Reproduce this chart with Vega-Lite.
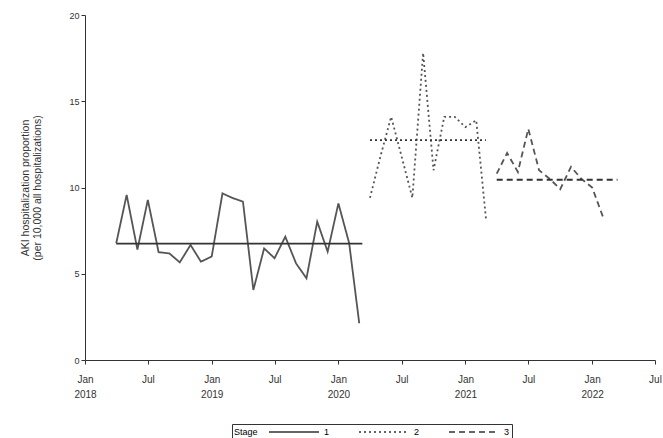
{
  "$schema": "https://vega.github.io/schema/vega-lite/v6.json",
  "width": 570,
  "height": 345,
  "autosize": "none",
  "padding": {"left": 85, "top": 15, "right": 8, "bottom": 78},
  "background": "white",
  "config": {
    "view": {"stroke": null},
    "font": "Liberation Sans",
    "axis": {"domainColor": "#333", "tickColor": "#333", "labelColor": "#333", "titleColor": "#333", "grid": false, "labelFont": "Liberation Sans", "titleFont": "Liberation Sans"}
  },
  "datasets": {
    "series": [
      {"date": "2018-04-01", "value": 6.77, "stage": "1"},
      {"date": "2018-05-01", "value": 9.57, "stage": "1"},
      {"date": "2018-06-01", "value": 6.4, "stage": "1"},
      {"date": "2018-07-01", "value": 9.28, "stage": "1"},
      {"date": "2018-08-01", "value": 6.25, "stage": "1"},
      {"date": "2018-09-01", "value": 6.18, "stage": "1"},
      {"date": "2018-10-01", "value": 5.66, "stage": "1"},
      {"date": "2018-11-01", "value": 6.67, "stage": "1"},
      {"date": "2018-12-01", "value": 5.7, "stage": "1"},
      {"date": "2019-01-01", "value": 6.0, "stage": "1"},
      {"date": "2019-02-01", "value": 9.66, "stage": "1"},
      {"date": "2019-03-01", "value": 9.4, "stage": "1"},
      {"date": "2019-04-01", "value": 9.18, "stage": "1"},
      {"date": "2019-05-01", "value": 4.06, "stage": "1"},
      {"date": "2019-06-01", "value": 6.47, "stage": "1"},
      {"date": "2019-07-01", "value": 5.9, "stage": "1"},
      {"date": "2019-08-01", "value": 7.15, "stage": "1"},
      {"date": "2019-09-01", "value": 5.6, "stage": "1"},
      {"date": "2019-10-01", "value": 4.74, "stage": "1"},
      {"date": "2019-11-01", "value": 8.02, "stage": "1"},
      {"date": "2019-12-01", "value": 6.28, "stage": "1"},
      {"date": "2020-01-01", "value": 9.08, "stage": "1"},
      {"date": "2020-02-01", "value": 6.77, "stage": "1"},
      {"date": "2020-03-01", "value": 2.13, "stage": "1"},
      {"date": "2020-04-01", "value": 9.4, "stage": "2"},
      {"date": "2020-05-01", "value": 11.8, "stage": "2"},
      {"date": "2020-06-01", "value": 14.1, "stage": "2"},
      {"date": "2020-07-01", "value": 11.8, "stage": "2"},
      {"date": "2020-08-01", "value": 9.4, "stage": "2"},
      {"date": "2020-09-01", "value": 17.8, "stage": "2"},
      {"date": "2020-10-01", "value": 11.0, "stage": "2"},
      {"date": "2020-11-01", "value": 14.1, "stage": "2"},
      {"date": "2020-12-01", "value": 14.1, "stage": "2"},
      {"date": "2021-01-01", "value": 13.5, "stage": "2"},
      {"date": "2021-02-01", "value": 13.9, "stage": "2"},
      {"date": "2021-03-01", "value": 8.2, "stage": "2"},
      {"date": "2021-04-01", "value": 10.8, "stage": "3"},
      {"date": "2021-05-01", "value": 12.0, "stage": "3"},
      {"date": "2021-06-01", "value": 10.9, "stage": "3"},
      {"date": "2021-07-01", "value": 13.4, "stage": "3"},
      {"date": "2021-08-01", "value": 11.0, "stage": "3"},
      {"date": "2021-09-01", "value": 10.5, "stage": "3"},
      {"date": "2021-10-01", "value": 9.9, "stage": "3"},
      {"date": "2021-11-01", "value": 11.2, "stage": "3"},
      {"date": "2021-12-01", "value": 10.5, "stage": "3"},
      {"date": "2022-01-01", "value": 10.0, "stage": "3"},
      {"date": "2022-02-01", "value": 8.3, "stage": "3"}
    ],
    "means": [
      {"stage": "1", "start": "2018-04-01", "end": "2020-03-10", "mean": 6.75},
      {"stage": "2", "start": "2020-04-01", "end": "2021-03-01", "mean": 12.75},
      {"stage": "3", "start": "2021-04-01", "end": "2022-03-15", "mean": 10.45}
    ]
  },
  "layer": [
    {
      "data": {"name": "series"},
      "mark": {"type": "line", "color": "#555", "strokeWidth": 1.8},
      "encoding": {
        "x": {
          "field": "date", "type": "temporal",
          "scale": {"domain": [{"year": 2018, "month": 1, "date": 1}, {"year": 2022, "month": 7, "date": 1}]},
          "axis": {
            "title": null,
            "values": [
              {"year": 2018, "month": 1, "date": 1}, {"year": 2018, "month": 7, "date": 1},
              {"year": 2019, "month": 1, "date": 1}, {"year": 2019, "month": 7, "date": 1},
              {"year": 2020, "month": 1, "date": 1}, {"year": 2020, "month": 7, "date": 1},
              {"year": 2021, "month": 1, "date": 1}, {"year": 2021, "month": 7, "date": 1},
              {"year": 2022, "month": 1, "date": 1}, {"year": 2022, "month": 7, "date": 1}
            ],
            "labelExpr": "month(datum.value) == 0 ? ['Jan', timeFormat(datum.value, '%Y')] : 'Jul'",
            "labelFontSize": 10,
            "labelLineHeight": 15,
            "labelPadding": 10,
            "tickSize": 4,
            "labelFlush": false,
            "labelOverlap": false
          }
        },
        "y": {
          "field": "value", "type": "quantitative",
          "scale": {"domain": [0, 20]},
          "axis": {
            "values": [0, 5, 10, 15, 20],
            "title": ["AKI hospitalization proportion", "(per 10,000 all hospitalizations)"],
            "titleFontSize": 10.5,
            "titleFontWeight": "normal",
            "titlePadding": 26,
            "labelFontSize": 9,
            "tickSize": 4
          }
        },
        "strokeDash": {
          "field": "stage", "type": "nominal",
          "scale": {"domain": ["1", "2", "3"], "range": [[1, 0], [2, 3], [6, 4]]},
          "legend": {
            "title": "Stage",
            "orient": "none",
            "legendX": 147,
            "legendY": 409,
            "direction": "horizontal",
            "titleOrient": "left",
            "titleFontSize": 9,
            "titleFontWeight": "normal",
            "titlePadding": 50,
            "labelFontSize": 9,
            "symbolType": "M-9,0H1",
            "symbolSize": 100,
            "symbolFillColor": "transparent",
            "symbolStrokeColor": "#555",
            "symbolStrokeWidth": 1.5,
            "strokeColor": "#333",
            "padding": 2,
            "columnPadding": 26
          }
        }
      }
    },
    {
      "data": {"name": "means"},
      "mark": {"type": "rule", "color": "#333", "strokeWidth": 1.8},
      "encoding": {
        "x": {"field": "start", "type": "temporal"},
        "x2": {"field": "end"},
        "y": {"field": "mean", "type": "quantitative"},
        "strokeDash": {"field": "stage", "type": "nominal"}
      }
    }
  ]
}
